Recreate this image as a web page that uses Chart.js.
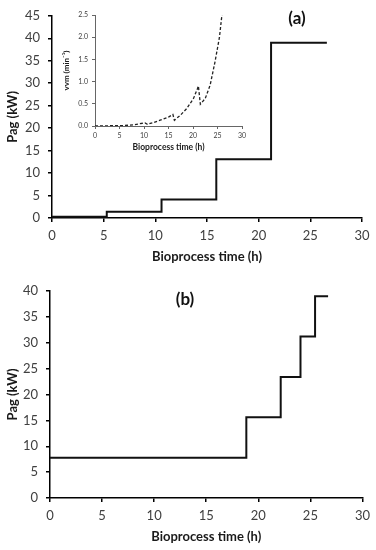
<!DOCTYPE html>
<html>
<head>
<meta charset="utf-8">
<script src="https://cdn.jsdelivr.net/npm/chart.js"></script>
<style>
  body { margin: 0; background: #fff; }
  #wrap { position: relative; width: 376px; height: 550px; font-family: Lato, sans-serif; }
  canvas { position: absolute; }
  .tag { position: absolute; font-weight: bold; font-size: 17px; color: #111; transform: translate(-50%, -50%); }
</style>
</head>
<body>
<div id="wrap">
  <canvas id="chartA" width="376" height="270" style="left:0;top:0"></canvas>
  <canvas id="chartB" width="376" height="280" style="left:0;top:270px"></canvas>
  <canvas id="inset" width="190" height="150" style="left:60px;top:5px"></canvas>
  <div class="tag" style="left:297px;top:17px">(a)</div>
  <div class="tag" style="left:185px;top:298px">(b)</div>
</div>
<script>
// panel (a): agitation power steps
var timeA = [0, 5.3, 10.6, 15.9, 21.2, 26.6];
var pagA = [0.3, 1.4, 4.1, 13.1, 39.0, 39.0];

// panel (b)
var timeB = [0, 18.85, 22.15, 24.05, 25.45, 26.7];
var pagB = [7.8, 15.6, 23.4, 31.2, 39.0, 39.0];

// inset: vvm over time
var vvmTime = [0, 3, 6, 8, 10.2, 10.7, 12, 13.3, 15, 15.9, 16.2, 17.4, 18.7, 20.1, 20.9, 21.1, 21.5, 22.5, 23.5, 24.5, 25.4, 25.9];
var vvmValues = [0, 0.005, 0.01, 0.03, 0.07, 0.04, 0.08, 0.13, 0.2, 0.26, 0.13, 0.24, 0.39, 0.62, 0.84, 0.9, 0.49, 0.62, 0.92, 1.45, 2.0, 2.5];

var xTitle = 'Bioprocess time (h)';
var yTitle = 'Pag (kW)';
var insetYTitle = 'vvm (min\u207B\u00B9)';

Chart.defaults.font.family = 'Lato, sans-serif';
Chart.defaults.animation = false;

var toPoints = (xs, ys) => xs.map((x, i) => ({ x: x, y: ys[i] }));

var axis = (opts) => {
    return {
        type: 'linear',
        min: opts.min,
        max: opts.max,
        border: { display: true, color: opts.axisColor || '#000', width: opts.axisWidth || 1.5 },
        grid: { drawOnChartArea: false, drawTicks: true, tickLength: opts.tickLength, color: opts.axisColor || '#000', lineWidth: opts.axisWidth || 1.5 },
        ticks: {
            stepSize: opts.step,
            padding: opts.tickPad,
            color: '#404040',
            font: { size: opts.tickSize },
            callback: opts.fmt || ((v) => v),
            maxRotation: 0,
            autoSkip: false
        },
        title: {
            display: true,
            text: opts.title,
            color: '#1a1a1a',
            font: { size: opts.titleSize, weight: 'bold' },
            padding: opts.titlePad
        },
        afterFit: (scale) => {
            if (opts.width) scale.width = opts.width;
            if (opts.height) scale.height = opts.height;
        }
    };
};

var stepChart = (id, xs, ys, yMax, pad, yWidth) => {
    var ctx = document.getElementById(id).getContext('2d');
    return new Chart(ctx, {
        type: 'line',
        data: {
            datasets: [{
                data: toPoints(xs, ys),
                stepped: 'before',
                borderColor: '#111',
                borderWidth: 2,
                pointRadius: 0,
                fill: false
            }]
        },
        options: {
            responsive: false,
            layout: { padding: pad },
            plugins: { legend: { display: false }, tooltip: { enabled: false } },
            scales: {
                x: axis({ min: 0, max: 30, step: 5, tickLength: 4, tickPad: 6, tickSize: 13, title: xTitle, titleSize: 13, titlePad: { top: 2, bottom: 5 }, height: 52 }),
                y: axis({ min: 0, max: yMax, step: 5, tickLength: 4, tickPad: 8, tickSize: 13, title: yTitle, titleSize: 13, titlePad: { top: 5, bottom: 2 }, width: yWidth })
            }
        }
    });
};

stepChart('chartA', timeA, pagA, 45, { left: 0, top: 14, right: 14, bottom: 0 }, 52);
stepChart('chartB', timeB, pagB, 40, { left: 0, top: 21, right: 13, bottom: 0 }, 50);

new Chart(document.getElementById('inset').getContext('2d'), {
    type: 'line',
    data: {
        datasets: [{
            data: toPoints(vvmTime, vvmValues),
            borderColor: '#222',
            borderWidth: 1.3,
            borderDash: [3, 2],
            pointRadius: 0,
            tension: 0,
            fill: false
        }]
    },
    options: {
        responsive: false,
        layout: { padding: { left: 0, top: 10, right: 8, bottom: 0 } },
        plugins: { legend: { display: false }, tooltip: { enabled: false } },
        scales: {
            x: axis({ min: 0, max: 30, step: 5, tickLength: 3, tickPad: 3, tickSize: 7, axisColor: '#666', axisWidth: 1, title: xTitle, titleSize: 8.5, titlePad: { top: 1, bottom: 3 }, height: 29 }),
            y: axis({ min: 0, max: 2.5, step: 0.5, tickLength: 3, tickPad: 4, tickSize: 7, axisColor: '#666', axisWidth: 1, title: insetYTitle, titleSize: 8, titlePad: { top: 2, bottom: 1 }, width: 35, fmt: (v) => v.toFixed(1) })
        }
    }
});
</script>
</body>
</html>
